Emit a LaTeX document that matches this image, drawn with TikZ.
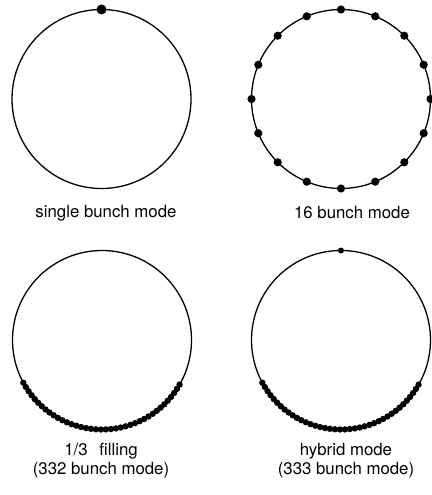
\documentclass[tikz,border=0pt]{standalone}
\usepackage{fontspec}
\setmainfont{TeX Gyre Heros}
\usepackage{tikz}
\usetikzlibrary{positioning}
\tikzset{
    every node/.style={font=\fontsize{16.8}{19}\selectfont},
    ring/.style={circle,draw=black,line width=1.3pt,minimum size=179pt,inner sep=0pt},
    bunch/.style={fill=black},
    caption/.style={align=center,inner sep=0pt}
}
\begin{document}
\begin{tikzpicture}[x=1pt,y=1pt]
\useasboundingbox (0,0) rectangle (431,-495);
% the four rings
\node[ring] (single) at (101.5,-99) {};
\node[ring] (sixteen) at (341,-99) {};
\node[ring] (third) at (102,-340) {};
\node[ring] (hybrid) at (341,-340) {};
% single bunch
\fill[bunch] ([shift={(90:89.5)}]single.center) circle (5);
% 16 bunches
\foreach \a in {0,22.5,...,337.5}
    \fill[bunch] ([shift={(\a:89.5)}]sixteen.center) circle (4.1);
% 1/3 filling
\foreach \a in {-151.5,-148.3,...,-28}
    \fill[bunch] ([shift={(\a:89.5)}]third.center) circle (3.2);
% hybrid: train plus one bunch opposite
\foreach \a in {-151.5,-148.3,...,-28}
    \fill[bunch] ([shift={(\a:89.5)}]hybrid.center) circle (3.2);
\fill[bunch] ([shift={(90:89.5)}]hybrid.center) circle (3);
% captions
\node[caption] (singlelab) at (106,-213) {single bunch mode};
\node[caption] (sixteenlab) at (352,-213) {16 bunch mode};
\node[caption] (thirdlab) at (101,-461) {1/3\hspace{0.7em}filling\\(332 bunch mode)};
\node[caption] (hybridlab) at (346,-461) {hybrid mode\\(333 bunch mode)};
\end{tikzpicture}
\end{document}
